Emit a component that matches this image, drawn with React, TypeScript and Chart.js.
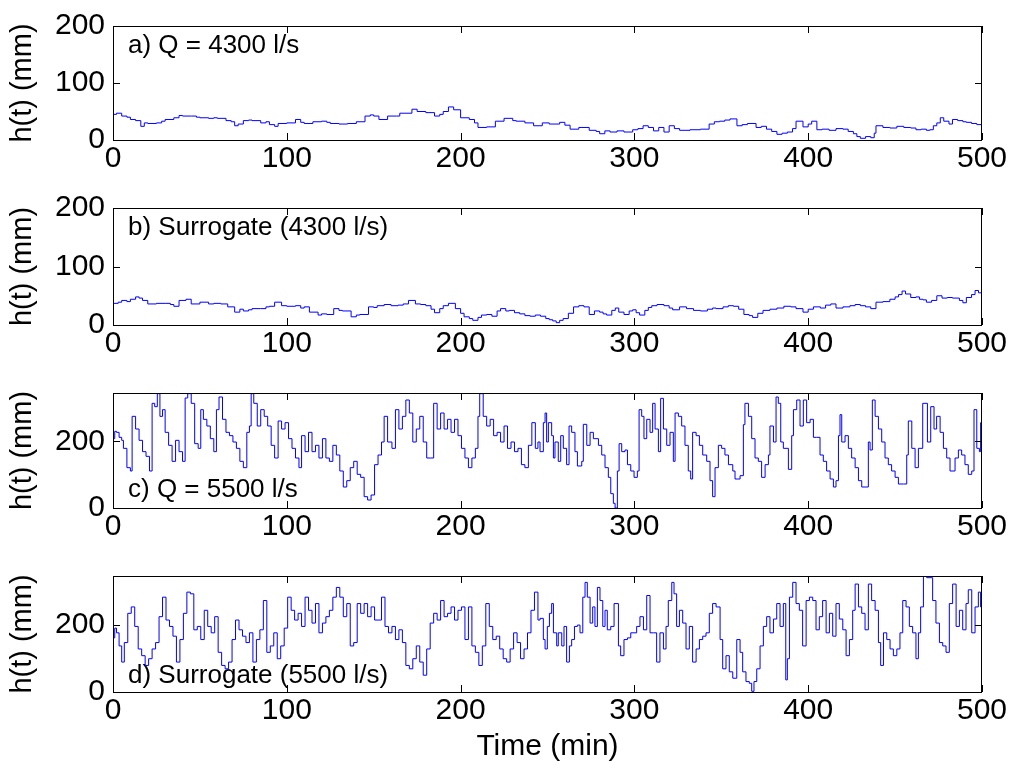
import React, { useEffect, useRef } from "react";
import { Chart, registerables } from "chart.js";

Chart.register(...registerables);

// ---------- data ----------
const xTickValues = [0, 100, 200, 300, 400, 500];
const yTicksLow = [0, 100, 200];
const yTicksHigh = [0, 200];

const aTime = [0, 2, 5, 8, 10, 13, 16, 18, 20, 25, 28, 30, 35, 38, 40, 45, 48, 50, 55, 58, 60, 65, 68, 70, 72, 75, 78, 80, 85, 88, 90, 93, 95, 100, 105, 108, 110, 115, 120, 123, 125, 130, 135, 140, 145, 148, 150, 153, 158, 163, 165, 168, 172, 175, 180, 185, 188, 190, 193, 196, 200, 205, 208, 210, 215, 220, 225, 230, 232, 237, 242, 247, 251, 257, 260, 263, 268, 274, 278, 280, 283, 286, 290, 294, 299, 302, 305, 308, 311, 314, 317, 320, 323, 326, 332, 338, 343, 346, 349, 352, 355, 359, 362, 365, 370, 373, 376, 379, 382, 385, 388, 391, 393, 397, 400, 402, 405, 408, 412, 416, 420, 423, 426, 428, 430, 433, 436, 438, 439, 443, 447, 451, 455, 459, 462, 465, 468, 470, 472, 474, 476, 478, 481, 483, 486, 489, 491, 494, 497, 500];
const aVal = [45, 47, 42, 40, 36, 34, 24, 30, 29, 30, 33, 36, 39, 43, 42, 42, 40, 39, 38, 39, 38, 34, 32, 25, 28, 34, 35, 34, 30, 32, 27, 24, 29, 30, 36, 31, 29, 32, 33, 31, 29, 28, 29, 32, 42, 44, 42, 36, 42, 42, 47, 47, 54, 50, 48, 42, 45, 50, 58, 53, 39, 36, 30, 22, 23, 33, 38, 34, 33, 30, 25, 30, 28, 31, 26, 19, 22, 17, 15, 11, 16, 14, 16, 14, 18, 20, 25, 22, 16, 22, 14, 25, 20, 17, 18, 19, 28, 32, 33, 35, 37, 25, 27, 29, 22, 24, 19, 15, 10, 12, 14, 20, 33, 23, 28, 33, 18, 19, 17, 20, 19, 15, 11, 6, 3, 6, 4, 12, 25, 22, 21, 24, 22, 21, 18, 19, 17, 18, 25, 30, 39, 33, 28, 36, 34, 32, 31, 29, 27, 23];

const bTime = [0, 3, 5, 8, 10, 13, 15, 17, 20, 25, 30, 33, 35, 38, 42, 45, 50, 55, 58, 62, 66, 70, 73, 75, 78, 80, 85, 88, 90, 93, 97, 100, 105, 108, 110, 113, 118, 120, 123, 127, 130, 132, 137, 140, 142, 147, 150, 152, 156, 160, 164, 167, 170, 174, 177, 180, 183, 185, 188, 190, 193, 197, 200, 202, 205, 207, 210, 212, 215, 218, 221, 223, 226, 228, 231, 234, 237, 240, 243, 246, 249, 251, 253, 255, 257, 259, 262, 265, 268, 271, 274, 277, 280, 282, 284, 287, 289, 291, 294, 297, 299, 301, 303, 306, 308, 310, 313, 317, 320, 322, 326, 330, 334, 338, 342, 345, 347, 351, 354, 357, 360, 363, 366, 368, 371, 374, 378, 382, 386, 390, 393, 397, 400, 403, 407, 410, 413, 416, 420, 424, 427, 430, 433, 436, 439, 443, 447, 450, 452, 454, 456, 459, 462, 464, 466, 468, 471, 474, 477, 480, 483, 487, 489, 491, 494, 496, 498, 500];
const bVal = [37, 39, 42, 40, 44, 48, 46, 42, 36, 37, 37, 35, 32, 42, 44, 36, 39, 36, 37, 36, 31, 22, 27, 24, 26, 28, 28, 31, 32, 39, 33, 32, 33, 29, 31, 22, 17, 19, 18, 28, 25, 24, 14, 17, 18, 31, 30, 33, 35, 33, 34, 36, 42, 36, 35, 33, 27, 21, 28, 33, 37, 28, 20, 14, 11, 8, 13, 17, 18, 15, 24, 28, 24, 25, 21, 19, 16, 15, 17, 15, 11, 9, 7, 4, 8, 11, 20, 31, 33, 31, 18, 24, 22, 19, 17, 25, 29, 22, 18, 24, 26, 21, 17, 25, 30, 33, 35, 33, 29, 26, 31, 28, 25, 24, 27, 29, 28, 31, 33, 32, 27, 18, 16, 13, 20, 25, 27, 29, 32, 31, 28, 22, 27, 31, 29, 34, 36, 29, 31, 33, 35, 33, 31, 28, 39, 40, 44, 48, 52, 58, 53, 47, 48, 44, 43, 39, 42, 50, 46, 47, 46, 42, 38, 47, 52, 59, 55, 50];

const cTime = [0, 1, 2, 3.5, 5, 6, 8, 10, 11, 13, 15, 17, 19, 21, 22.5, 24, 25.5, 27, 28.5, 30, 32, 34, 36, 38, 40, 41.5, 43, 45, 47, 49, 50.5, 52, 54, 56, 58, 59.5, 61, 63, 65, 67, 69, 71, 73, 75, 77, 78.5, 79.5, 81, 83, 85, 87, 89, 91, 93, 95, 97, 99, 101, 103, 105, 107, 108.5, 110.5, 112.5, 114.5, 116.5, 118.5, 120.5, 122.5, 124.5, 126.5, 128.5, 130.5, 132.5, 134.5, 136.5, 138.5, 140.5, 142.5, 144.5, 146.5, 148.5, 150.5, 152.5, 154.5, 156, 158, 160.5, 162.5, 164.5, 166.5, 168.5, 170.5, 172.5, 174.5, 176.5, 178.5, 180.5, 182.5, 184.5, 186.5, 188.5, 190.5, 192.5, 194.5, 196.5, 198.5, 200.5, 202.5, 204.5, 206.5, 208.5, 210, 211, 213, 215, 217, 219, 221, 223, 225, 227, 229, 231, 233, 235, 237, 239, 241, 243, 244.5, 245.7, 247.6, 248.6, 249.5, 250.5, 252.4, 253.4, 254.3, 256.2, 257.6, 259.1, 261, 262.4, 263.9, 265.8, 267.2, 269.7, 270.6, 272.6, 274.5, 276.4, 279.3, 281.2, 283.1, 285, 286.4, 287.9, 288.9, 290.2, 291.2, 292.7, 294.6, 296, 297.9, 299.8, 301.7, 302.7, 304.2, 305.5, 307.1, 309, 310.5, 311.9, 313.8, 315.1, 316.7, 318.6, 320.5, 322.4, 323.4, 325.3, 327.2, 329.1, 331, 332.4, 333.5, 335.5, 337.4, 339.3, 341.6, 343.5, 345, 346.4, 348.3, 350.2, 352.1, 354.1, 356.6, 357.9, 360.8, 362.7, 363.6, 365.6, 367.5, 369.4, 371.3, 373.2, 375.2, 377.1, 378, 380, 381.5, 382.8, 384.2, 385.7, 388.6, 390.5, 391.5, 393.4, 395.3, 397.2, 399.1, 401.1, 403, 404.9, 406.8, 408.7, 410.6, 412.6, 414.5, 416, 417.4, 418.3, 419.3, 421.2, 423.1, 425, 427, 428.9, 430.8, 432.7, 434.6, 435.6, 436.9, 438.5, 440.4, 442.3, 444.2, 446.1, 448, 450, 451.9, 454.8, 456.7, 457.6, 459.6, 461.5, 463.4, 465.9, 467.2, 468.6, 470.5, 472.4, 473.9, 475.9, 477.8, 479.7, 481.6, 484.5, 486.4, 488.3, 490.2, 492.1, 494.1, 495.4, 497, 498.5, 499.2, 500];
const cVal = [208, 230, 227, 212, 203, 179, 121, 111, 275, 237, 203, 169, 155, 111, 314, 304, 343, 275, 295, 227, 188, 140, 203, 169, 140, 330, 343, 314, 193, 179, 295, 266, 246, 208, 169, 295, 333, 266, 227, 217, 198, 179, 140, 121, 227, 246, 343, 314, 246, 295, 275, 246, 188, 150, 261, 237, 256, 208, 179, 150, 121, 217, 169, 227, 169, 188, 150, 208, 150, 140, 188, 159, 111, 63, 82, 121, 140, 101, 92, 34, 24, 39, 130, 159, 198, 275, 198, 179, 295, 237, 275, 324, 285, 198, 237, 275, 198, 150, 150, 314, 237, 285, 237, 266, 227, 266, 217, 179, 150, 121, 150, 179, 275, 343, 275, 246, 266, 217, 227, 198, 246, 179, 198, 169, 179, 130, 121, 188, 256, 179, 198, 169, 256, 285, 198, 256, 217, 150, 198, 140, 217, 179, 130, 246, 227, 169, 126, 140, 251, 188, 227, 208, 188, 159, 121, 92, 43, 14, 0, 111, 193, 169, 174, 130, 111, 92, 111, 295, 275, 208, 266, 227, 314, 237, 169, 329, 237, 188, 227, 140, 285, 275, 246, 188, 111, 87, 227, 217, 188, 159, 140, 82, 34, 121, 188, 179, 159, 130, 111, 87, 97, 250, 314, 275, 208, 150, 140, 92, 130, 159, 246, 198, 333, 314, 198, 179, 116, 217, 295, 324, 246, 324, 256, 266, 212, 212, 159, 140, 111, 87, 63, 82, 217, 280, 198, 217, 179, 150, 121, 82, 63, 63, 198, 174, 324, 275, 237, 198, 150, 130, 111, 92, 72, 72, 159, 261, 179, 121, 179, 314, 314, 198, 304, 237, 275, 227, 179, 150, 111, 150, 174, 159, 130, 101, 111, 295, 179, 169, 256, 256];

const dTime = [0, 1, 2, 3.5, 5, 6.5, 8.5, 10.5, 12.5, 14.5, 16.5, 18.5, 20.5, 22.5, 24.5, 26.5, 28.5, 30.5, 32.5, 34.5, 36.5, 38.5, 40.5, 42.5, 44.5, 46.5, 48.5, 50.5, 52.5, 54.5, 56.5, 58.5, 60.5, 62.5, 64.5, 66.5, 68.5, 70.5, 72.5, 74.5, 76.5, 78.5, 80.5, 82.5, 84.5, 86.5, 88.5, 90.5, 92.5, 94.5, 96.5, 98.5, 100.5, 102.5, 104.5, 106.5, 108.5, 110.5, 112.5, 114.5, 116.5, 118.5, 120.5, 122.5, 124.5, 126.5, 128.5, 130.5, 132.5, 134.5, 136.5, 138.5, 140.5, 142.5, 144.5, 146.5, 148.5, 150.5, 152.5, 154.5, 156.5, 158.5, 160.5, 162.5, 164.5, 166.5, 168.5, 170.5, 172.5, 174.5, 176.5, 178.5, 180.5, 182.5, 184.5, 186.5, 188.5, 190.5, 192.5, 194.5, 196.5, 198.5, 200.5, 202.5, 204.5, 206.5, 208.5, 210.5, 212.5, 214.5, 216.5, 218.5, 220.5, 222.5, 224.5, 226.5, 228.5, 230.5, 232.5, 234.5, 236.5, 238.5, 240.5, 242.5, 244.5, 245.7, 247.6, 248.6, 249.9, 251.1, 252.4, 253.4, 255.3, 256.2, 258.2, 259.5, 261, 262.6, 263.9, 265.5, 267.2, 268.7, 270.3, 271.6, 272.9, 274.5, 276, 277.3, 278.7, 280.2, 281.8, 283.1, 284.4, 286.4, 288.3, 290.8, 292.1, 294, 296, 297.9, 299.8, 301.3, 303.2, 305.2, 307.1, 309, 310.9, 312.8, 314.7, 316.7, 318.2, 319.5, 321.5, 322.8, 324.3, 325.9, 327.8, 329.7, 331.6, 333.5, 335.5, 337.4, 339.3, 341.2, 343.1, 345, 347, 349.3, 350.8, 352.7, 354.6, 356.6, 358.9, 360.8, 362.3, 364.2, 366.1, 367.5, 368.8, 370.4, 372.3, 374.2, 376.1, 378, 380, 381.9, 383.8, 385.7, 387.1, 388, 389.2, 391.1, 393, 394.9, 396.8, 398.8, 400.7, 402.6, 404.5, 406.4, 408.3, 410.3, 412.2, 414.1, 416, 417.9, 419.9, 421.8, 423.7, 425.6, 427, 428.9, 430.8, 432.7, 434.6, 436.5, 438.5, 440.4, 441.7, 443.3, 445.2, 447.1, 449, 451, 452.8, 454.4, 456.3, 458.2, 460.1, 462, 463.4, 464.7, 466.3, 468.2, 470.1, 471.6, 473.5, 475.5, 477.4, 479.3, 481.2, 483.1, 485.1, 487, 488.9, 490.8, 492.1, 494.1, 496, 497.9, 499.2, 500];
const dVal = [161, 190, 176, 137, 89, 147, 234, 253, 195, 128, 108, 79, 99, 128, 147, 224, 282, 214, 195, 166, 89, 156, 234, 297, 292, 185, 195, 156, 243, 195, 176, 224, 118, 79, 69, 89, 156, 214, 185, 166, 147, 176, 89, 156, 185, 272, 118, 137, 176, 99, 137, 190, 282, 243, 214, 234, 195, 282, 243, 205, 263, 176, 205, 224, 243, 282, 311, 282, 224, 263, 137, 147, 263, 234, 263, 224, 253, 214, 214, 282, 195, 176, 195, 156, 185, 147, 79, 69, 99, 137, 89, 50, 128, 205, 234, 214, 272, 224, 234, 253, 214, 243, 253, 156, 253, 137, 118, 79, 137, 263, 195, 156, 166, 128, 99, 89, 128, 176, 147, 99, 128, 176, 243, 297, 214, 219, 156, 128, 195, 234, 263, 176, 137, 176, 137, 195, 89, 137, 156, 195, 199, 176, 282, 326, 282, 205, 253, 195, 311, 272, 195, 243, 185, 195, 263, 137, 108, 156, 161, 176, 176, 195, 224, 185, 287, 176, 176, 89, 176, 128, 195, 272, 326, 292, 195, 243, 205, 128, 195, 89, 128, 156, 166, 176, 234, 263, 253, 156, 69, 108, 60, 41, 156, 118, 60, 31, 26, 2, 31, 69, 137, 195, 224, 176, 217, 263, 195, 263, 36, 99, 282, 326, 263, 243, 137, 272, 282, 272, 185, 224, 272, 176, 234, 166, 263, 217, 185, 108, 156, 243, 321, 253, 234, 185, 321, 272, 243, 147, 79, 176, 156, 128, 108, 128, 176, 272, 253, 195, 176, 99, 176, 253, 345, 340, 340, 272, 205, 147, 137, 118, 263, 321, 195, 243, 185, 263, 304, 176, 253, 297, 253, 234];

const panelLabels = ["a) Q = 4300 l/s", "b) Surrogate (4300 l/s)", "c) Q = 5500 l/s", "d) Surrogate (5500 l/s)"];
const yAxisTitle = "h(t) (mm)";
const xAxisTitle = "Time (min)";

// ---------- layout ----------
const FONT = "'Liberation Sans', Arial, Helvetica, sans-serif";
const W = 1014;
const AREA_LEFT = 113;
const AREA_RIGHT = 982;

type PanelSpec = {
  top: number;
  height: number;
  areaTop: number;
  areaBottom: number;
  time: number[];
  values: number[];
  yMax: number;
  yTicks: number[];
  label: string;
  labelY: number;
  showXTitle: boolean;
};

const panels: PanelSpec[] = [
  { top: 0, height: 182, areaTop: 20, areaBottom: 140, time: aTime, values: aVal, yMax: 200, yTicks: yTicksLow, label: panelLabels[0], labelY: 46, showXTitle: false },
  { top: 182, height: 185, areaTop: 205, areaBottom: 325, time: bTime, values: bVal, yMax: 200, yTicks: yTicksLow, label: panelLabels[1], labelY: 228, showXTitle: false },
  { top: 367, height: 183, areaTop: 389, areaBottom: 508, time: cTime, values: cVal, yMax: 345, yTicks: yTicksHigh, label: panelLabels[2], labelY: 490, showXTitle: false },
  { top: 550, height: 225, areaTop: 573, areaBottom: 692, time: dTime, values: dVal, yMax: 345, yTicks: yTicksHigh, label: panelLabels[3], labelY: 676, showXTitle: true },
];

function Panel({ spec }: { spec: PanelSpec }) {
  const ref = useRef<HTMLCanvasElement | null>(null);
  useEffect(() => {
    const canvas = ref.current;
    if (!canvas) return;
    const labelPlugin = {
      id: "panelLabel",
      beforeDatasetsDraw(chart: any) {
        const ctx = chart.ctx;
        ctx.save();
        ctx.fillStyle = "#000";
        ctx.font = `26px ${FONT}`;
        ctx.textBaseline = "middle";
        ctx.textAlign = "left";
        ctx.fillText(spec.label, 128, spec.labelY - spec.top);
        ctx.restore();
      },
    };
    const framePlugin = {
      id: "frame",
      afterDatasetsDraw(chart: any) {
        const { ctx, chartArea } = chart;
        const { left, right, top, bottom } = chartArea;
        const xs = chart.scales.x;
        const ys = chart.scales.y;
        ctx.save();
        ctx.strokeStyle = "#000";
        ctx.lineWidth = 1;
        ctx.strokeRect(Math.round(left) + 0.5, Math.round(top) + 0.5, Math.round(right - left) - 1, Math.round(bottom - top));
        const tl = 7;
        ctx.beginPath();
        xTickValues.forEach((v) => {
          const px = Math.round(xs.getPixelForValue(v)) + 0.5;
          ctx.moveTo(px, bottom);
          ctx.lineTo(px, bottom - tl);
          ctx.moveTo(px, top);
          ctx.lineTo(px, top + tl);
        });
        spec.yTicks.forEach((v) => {
          const py = Math.round(ys.getPixelForValue(v)) + 0.5;
          ctx.moveTo(left, py);
          ctx.lineTo(left + tl, py);
          ctx.moveTo(right, py);
          ctx.lineTo(right - tl, py);
        });
        ctx.stroke();
        ctx.restore();
      },
    };
    const data = spec.time.map((t, i) => ({ x: t, y: spec.values[i] }));
    const chart = new Chart(canvas, {
      type: "line",
      data: {
        datasets: [
          {
            data,
            borderColor: "#0000ff",
            borderWidth: 1,
            pointRadius: 0,
            tension: 0,
            stepped: "before",
            fill: false,
          },
        ],
      },
      options: {
        animation: false,
        responsive: false,
        devicePixelRatio: 1,
        parsing: false as any,
        normalized: true,
        layout: { padding: { top: spec.areaTop - spec.top, right: W - AREA_RIGHT, left: 0, bottom: 0 } },
        plugins: { legend: { display: false }, tooltip: { enabled: false } },
        events: [],
        scales: {
          x: {
            type: "linear",
            min: 0,
            max: 500,
            afterBuildTicks: (s: any) => {
              s.ticks = xTickValues.map((v) => ({ value: v }));
            },
            afterFit: (s: any) => {
              s.height = spec.top + spec.height - spec.areaBottom;
            },
            grid: { display: false, drawTicks: false },
            border: { display: false },
            ticks: { color: "#000", font: { size: 30, family: FONT }, padding: 1, autoSkip: false, maxRotation: 0 },
            title: {
              display: spec.showXTitle,
              text: xAxisTitle,
              color: "#000",
              font: { size: 30, family: FONT },
              padding: { top: 0, bottom: 10 },
            },
          },
          y: {
            type: "linear",
            min: 0,
            max: spec.yMax,
            afterBuildTicks: (s: any) => {
              s.ticks = spec.yTicks.map((v) => ({ value: v }));
            },
            afterFit: (s: any) => {
              s.width = AREA_LEFT;
            },
            grid: { display: false, drawTicks: false },
            border: { display: false },
            ticks: { color: "#000", font: { size: 30, family: FONT }, padding: 8, autoSkip: false },
            title: {
              display: true,
              text: yAxisTitle,
              color: "#000",
              font: { size: 29, family: FONT },
              padding: { top: 6, bottom: 0 },
            },
          },
        },
      },
      plugins: [labelPlugin, framePlugin],
    } as any);
    return () => chart.destroy();
  }, [spec]);
  return (
    <canvas
      ref={ref}
      width={W}
      height={spec.height}
      style={{ position: "absolute", left: 0, top: spec.top, display: "block", width: W, height: spec.height }}
    />
  );
}

export default function App() {
  return (
    <div style={{ position: "absolute", left: 0, top: 0, width: W, height: 775, background: "#fff", overflow: "hidden" }}>
      {panels.map((p, i) => (
        <Panel key={i} spec={p} />
      ))}
    </div>
  );
}
